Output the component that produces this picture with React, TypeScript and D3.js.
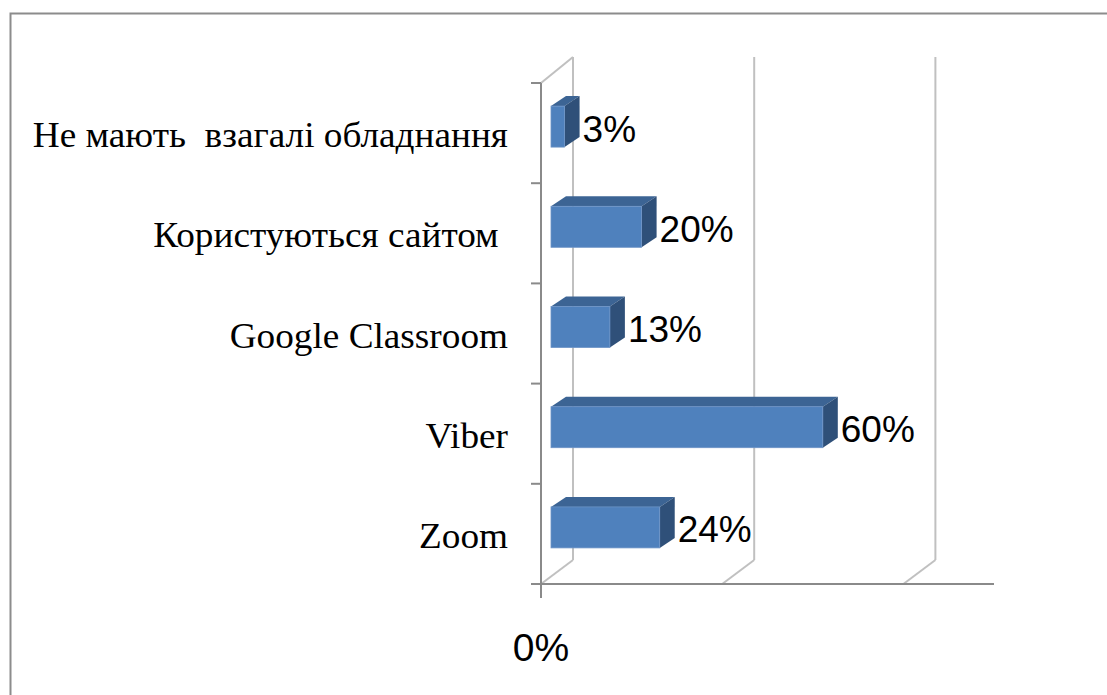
import React from "react";
import * as d3 from "d3";

const categories = [
  "Не мають  взагалі обладнання",
  "Користуються сайтом ",
  "Google Classroom",
  "Viber",
  "Zoom",
];
const values = [3, 20, 13, 60, 24];
const gridValues = [0, 40, 80];
const axisLabels = ["0%"];

const W = 1107;
const H = 695;

// 3D offsets (floor depth and bar depth)
const wallDx = 32;
const wallDyTop = -26;
const wallDyBottom = -24;
const barShiftX = 10;
const barShiftY = -6.5;
const barDepthX = 15;
const barDepthY = -10;
const barH = 41;

export default function App() {
  const x = d3.scaleLinear().domain([0, 100]).range([541, 994]);
  const y = d3.scaleBand<string>().domain(categories).range([83, 584]).padding(0);

  const top = y.range()[0];
  const bottom = y.range()[1];
  const backTop = top + wallDyTop;
  const backBottom = bottom + wallDyBottom;
  const axisGray = "#8a8a8a";
  const gridGray = "#c0c0c0";

  const ticks = categories.map((c) => y(c) as number).concat([bottom]);

  return (
    <svg
      width={W}
      height={H}
      style={{ position: "absolute", left: 0, top: 0, background: "#fff" }}
    >
      {/* frame */}
      <path d={`M10.5,${H} V13.5 H${W}`} fill="none" stroke="#8c8c8c" strokeWidth={2} />

      {/* back wall gridlines */}
      {gridValues.map((v) => (
        <line
          key={"g" + v}
          x1={x(v) + wallDx}
          x2={x(v) + wallDx}
          y1={backTop}
          y2={backBottom}
          stroke={gridGray}
          strokeWidth={2}
        />
      ))}
      {/* floor diagonals */}
      {gridValues.map((v) => (
        <line
          key={"f" + v}
          x1={x(v)}
          y1={bottom}
          x2={x(v) + wallDx}
          y2={backBottom}
          stroke={gridGray}
          strokeWidth={2}
        />
      ))}
      {/* left wall top diagonal */}
      <line x1={x(0)} y1={top} x2={x(0) + wallDx} y2={backTop} stroke={gridGray} strokeWidth={2} />

      {/* front axes */}
      <line x1={x(0)} y1={top} x2={x(0)} y2={bottom} stroke={axisGray} strokeWidth={2} />
      <line x1={x(0) - 10} y1={bottom} x2={x(100)} y2={bottom} stroke={axisGray} strokeWidth={2} />
      {ticks.map((t, i) => (
        <line key={"t" + i} x1={x(0) - 10} x2={x(0)} y1={t} y2={t} stroke={axisGray} strokeWidth={2} />
      ))}
      <line x1={x(0)} x2={x(0)} y1={bottom} y2={bottom + 14} stroke={axisGray} strokeWidth={2} />

      {/* bars */}
      {categories.map((c, i) => {
        const cy = (y(c) as number) + y.bandwidth() / 2 + barShiftY;
        const x0 = x(0) + barShiftX;
        const x1 = x0 + (x(values[i]) - x(0));
        const y0 = cy - barH / 2;
        const y1 = cy + barH / 2;
        return (
          <g key={c}>
            <path
              d={`M${x0},${y0} L${x0 + barDepthX},${y0 + barDepthY} L${x1 + barDepthX},${y0 + barDepthY} L${x1},${y0} Z`}
              fill="#3c6494"
            />
            <path
              d={`M${x1},${y0} L${x1 + barDepthX},${y0 + barDepthY} L${x1 + barDepthX},${y1 + barDepthY} L${x1},${y1} Z`}
              fill="#2f5079"
            />
            <rect x={x0} y={y0} width={x1 - x0} height={barH} fill="#4f81bd" stroke="#6d93c6" strokeWidth={0.8} />
            <text
              x={x1 + barDepthX + 3}
              y={cy + 15}
              fontFamily="'Liberation Sans', Arial, sans-serif"
              fontSize={37}
              fill="#000"
            >
              {values[i] + "%"}
            </text>
          </g>
        );
      })}

      {/* category labels (slightly widened like the original) */}
      {categories.map((c) => (
        <text
          key={"l" + c}
          transform={`translate(508,${(y(c) as number) + y.bandwidth() / 2 + 14}) scale(1.035,1)`}
          textAnchor="end"
          fontFamily="'Liberation Serif', 'Times New Roman', serif"
          fontSize={36}
          fill="#000"
          style={{ whiteSpace: "pre" }}
        >
          {c}
        </text>
      ))}

      {/* value axis label */}
      {axisLabels.map((l, i) => (
        <text
          key={"a" + i}
          x={x(i * 100)}
          y={661}
          textAnchor="middle"
          fontFamily="'Liberation Sans', Arial, sans-serif"
          fontSize={39}
          fill="#000"
        >
          {l}
        </text>
      ))}
    </svg>
  );
}
